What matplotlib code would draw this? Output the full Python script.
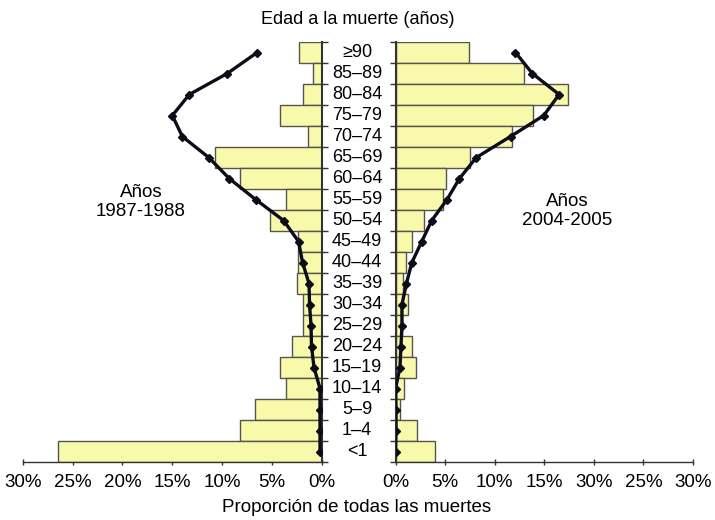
import matplotlib.pyplot as plt
import numpy as np

plt.rcParams['font.family'] = ['Liberation Sans', 'DejaVu Sans']

age_groups = ['≥90', '85–89', '80–84', '75–79', '70–74', '65–69', '60–64', '55–59',
              '50–54', '45–49', '40–44', '35–39', '30–34', '25–29', '20–24', '15–19',
              '10–14', '5–9', '1–4', '<1']

bars_1987 = [2.35, 0.9, 1.9, 4.2, 1.45, 10.7, 8.2, 3.6, 5.2, 2.45,
             2.45, 2.55, 1.95, 1.95, 3.05, 4.25, 3.6, 6.7, 8.2, 26.5]
line_1987 = [6.5, 9.5, 13.3, 15.0, 14.0, 11.35, 9.3, 6.65, 3.85, 2.35,
             1.95, 1.3, 1.25, 1.1, 1.05, 0.8, 0.2, 0.2, 0.2, 0.2]

bars_2004 = [7.45, 13.0, 17.4, 13.9, 11.75, 7.55, 5.1, 4.75, 2.85, 1.7,
             1.05, 0.8, 1.3, 0.65, 1.7, 2.05, 0.9, 0.5, 2.15, 4.0]
line_2004 = [12.1, 13.8, 16.5, 14.95, 11.6, 8.15, 6.45, 5.2, 3.65, 2.65,
             1.65, 1.1, 0.65, 0.65, 0.55, 0.45, 0.0, 0.05, 0.05, 0.0]

left_ticks = [30, 25, 20, 15, 10, 5, 0]
left_tick_labels = ['30%', '25%', '20%', '15%', '10%', '5%', '0%']
right_ticks = [0, 5, 10, 15, 20, 25, 30]
right_tick_labels = ['0%', '5%', '10%', '15%', '30%', '25%', '30%']

W, H = 715, 520
fig = plt.figure(figsize=(W / 100, H / 100), dpi=100)

n = len(age_groups)
ypos = np.arange(n)[::-1]  # top group at highest y

bar_color = '#F9F9AC'
edge_color = '#55554a'
line_color = '#0d0d1a'
spine_color = '#333333'

bottom = 1 - 462 / H
top = 1 - 42 / H
axL = fig.add_axes([22.7 / W, bottom, (322 - 22.7) / W, top - bottom])
axR = fig.add_axes([395.5 / W, bottom, (693 - 395.5) / W, top - bottom])

for ax, bars, line, ticks, labels, xlim in [
        (axL, bars_1987, line_1987, left_ticks, left_tick_labels, (30, 0)),
        (axR, bars_2004, line_2004, right_ticks, right_tick_labels, (0, 30))]:
    ax.barh(ypos, bars, height=1.0, color=bar_color, edgecolor=edge_color,
            linewidth=1.0, zorder=2)
    ax.plot(line, ypos, color=line_color, linewidth=2.4, marker='D',
            markersize=4.5, zorder=3)
    ax.set_xlim(*xlim)
    ax.set_ylim(-0.5, n - 0.5)
    ax.set_xticks(ticks)
    ax.set_xticklabels(labels, fontsize=13.5)
    ax.set_yticks(np.arange(n + 1) - 0.5)
    ax.set_yticklabels([])
    ax.spines['top'].set_visible(False)
    ax.spines['bottom'].set_color(spine_color)
    ax.spines['bottom'].set_linewidth(1.0)
    ax.tick_params(axis='x', direction='inout', length=5, width=1.0,
                   color=spine_color, pad=6)
    ax.tick_params(axis='y', direction='out', length=4, width=1.0,
                   color=spine_color)
    ax.set_facecolor('none')

axL.spines['left'].set_visible(False)
axL.spines['right'].set_color(spine_color)
axL.spines['right'].set_linewidth(1.5)
axL.yaxis.tick_right()
axL.tick_params(axis='y', which='both', left=False, right=True)

axR.spines['right'].set_visible(False)
axR.spines['left'].set_color(spine_color)
axR.spines['left'].set_linewidth(1.5)

# age labels in the middle
for i, lab in enumerate(age_groups):
    yv = ypos[i]
    y_disp = axL.transData.transform((0, yv))[1]
    fig.text(357 / W, y_disp / H, lab, ha='center', va='center', fontsize=13)

fig.text(358 / W, 1 - 19 / H, 'Edad a la muerte (años)', ha='center', va='center', fontsize=13)
fig.text(357 / W, 1 - 507 / H, 'Proporción de todas las muertes', ha='center', va='center', fontsize=13.5)
fig.text(141 / W, 1 - 202 / H, 'Años\n1987-1988', ha='center', va='center', fontsize=13.5,
         linespacing=1.2)
fig.text(567 / W, 1 - 211 / H, 'Años\n2004-2005', ha='center', va='center', fontsize=13.5,
         linespacing=1.2)

fig.savefig('out.png', dpi=100)
